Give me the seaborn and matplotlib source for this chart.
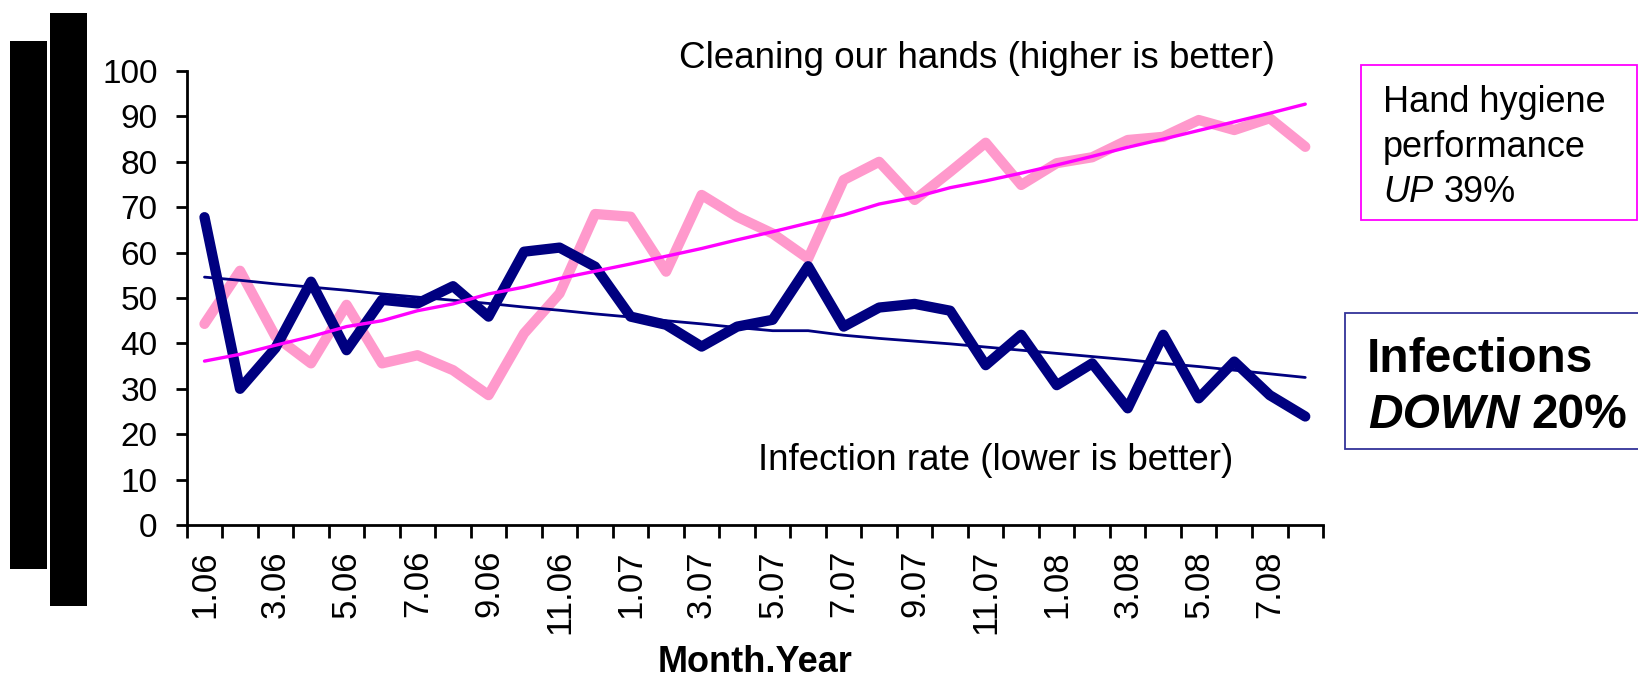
import pandas as pd
import numpy as np
import matplotlib.pyplot as plt
import matplotlib.patches as patches
import seaborn as sns

sns.set_style("white")
plt.rcParams['font.family'] = ['Liberation Sans', 'DejaVu Sans']
plt.rcParams['text.color'] = 'black'
plt.rcParams['axes.labelcolor'] = 'black'
plt.rcParams['xtick.color'] = 'black'
plt.rcParams['ytick.color'] = 'black'

# month.year categories, Jan 2006 .. Aug 2008
months = ['1.06', '2.06', '3.06', '4.06', '5.06', '6.06', '7.06', '8.06', '9.06', '10.06', '11.06', '12.06',
          '1.07', '2.07', '3.07', '4.07', '5.07', '6.07', '7.07', '8.07', '9.07', '10.07', '11.07', '12.07',
          '1.08', '2.08', '3.08', '4.08', '5.08', '6.08', '7.08', '8.08']

infection = [67.8, 30.0, 39.0, 53.6, 38.5, 49.6, 48.8, 52.6, 45.9, 60.2, 61.1, 56.9,
             45.9, 44.1, 39.3, 43.7, 45.2, 57.0, 43.7, 47.9, 48.7, 47.2, 35.2, 41.9,
             30.8, 35.6, 25.7, 41.9, 27.9, 36.0, 28.6, 23.9]
hygiene = [44.3, 56.0, 41.5, 35.6, 48.5, 35.6, 37.4, 34.1, 28.6, 42.2, 51.0, 68.5,
           67.9, 55.8, 72.7, 67.9, 64.2, 58.7, 76.0, 80.0, 71.6, 77.8, 84.2, 74.9,
           79.7, 81.0, 84.8, 85.5, 89.2, 87.0, 89.6, 83.3]
infection_trend = [54.6, 53.9, 53.1, 52.4, 51.7, 50.9, 50.2, 49.5, 48.8, 48.0, 47.3, 46.5,
                   45.8, 45.0, 44.3, 43.5, 42.8, 42.8, 41.8, 41.1, 40.5, 39.9, 39.2, 38.5,
                   37.8, 37.1, 36.4, 35.6, 34.9, 34.1, 33.3, 32.5]
hygiene_trend = [36.1, 37.6, 39.6, 41.5, 43.7, 45.0, 47.2, 48.7, 50.9, 52.4, 54.3, 55.9,
                 57.5, 59.2, 60.9, 62.8, 64.6, 66.5, 68.3, 70.7, 72.2, 74.3, 75.8, 77.5,
                 79.3, 81.2, 83.2, 85.0, 86.9, 88.8, 90.7, 92.7]

df = pd.DataFrame({'pos': np.arange(len(months)), 'month': months,
                   'infection': infection, 'hygiene': hygiene,
                   'infection_trend': infection_trend, 'hygiene_trend': hygiene_trend})

fig = plt.figure(figsize=(16.38, 6.82), dpi=100)
ax = fig.add_axes([0.1140, 0.2302, 0.6937, 0.6657])

sns.lineplot(data=df, x='pos', y='hygiene', ax=ax, color='#FF99CC', linewidth=7.4,
             solid_capstyle='round', solid_joinstyle='round')
sns.lineplot(data=df, x='pos', y='infection', ax=ax, color='#000080', linewidth=7.4,
             solid_capstyle='round', solid_joinstyle='round')
sns.lineplot(data=df, x='pos', y='infection_trend', ax=ax, color='#000080', linewidth=2.0)
sns.lineplot(data=df, x='pos', y='hygiene_trend', ax=ax, color='#FF00FF', linewidth=2.4)

ax.set_xlim(-0.5, len(months) - 0.5)
ax.set_ylim(0, 100)
ax.set_yticks(range(0, 101, 10))
ax.tick_params(axis='y', labelsize=24, length=8, width=2, direction='out', pad=13, left=True)

# tick marks between categories, labels on every other category
ax.set_xticks(np.arange(-0.5, len(months), 1.0))
ax.set_xticklabels([])
ax.set_xticks(df['pos'][::2], minor=True)
ax.set_xticklabels(months[::2], minor=True, rotation=90, fontsize=25)
ax.tick_params(axis='x', which='major', length=9, width=2, direction='out', bottom=True)
ax.tick_params(axis='x', which='minor', length=0, pad=18)

sns.despine(ax=ax)
for s in ['left', 'bottom']:
    ax.spines[s].set_linewidth(2)
    ax.spines[s].set_color('black')
ax.set_ylabel('')
ax.set_xlabel('Month.Year', fontsize=26, fontweight='bold', labelpad=8)
ax.grid(False)

W, H = 1638, 682

def fx(px):
    return px / W

def fy(py):
    return 1 - py / H

# black bars on the left
fig.patches.append(patches.Rectangle((fx(10), fy(569)), fx(37), 528 / H, transform=fig.transFigure,
                                     facecolor='black', edgecolor='none'))
fig.patches.append(patches.Rectangle((fx(50), fy(606)), fx(37), 593 / H, transform=fig.transFigure,
                                     facecolor='black', edgecolor='none'))

fig.text(fx(977), fy(58), 'Cleaning our hands (higher is better)', fontsize=26.5, ha='center', va='center')
fig.text(fx(996), fy(461), 'Infection rate (lower is better)', fontsize=26.5, ha='center', va='center')

# pink box
fig.patches.append(patches.Rectangle((fx(1361), fy(220)), fx(276), 155 / H, transform=fig.transFigure,
                                     facecolor='white', edgecolor='#FF00FF', linewidth=1.3))
fig.text(fx(1383), fy(112), 'Hand hygiene', fontsize=26, va='baseline')
fig.text(fx(1383), fy(157), 'performance', fontsize=26, va='baseline')
fig.text(fx(1383), fy(202), 'UP', fontsize=26, style='italic', va='baseline')
fig.text(fx(1444), fy(202), '39%', fontsize=26, va='baseline')

# navy box
fig.patches.append(patches.Rectangle((fx(1345), fy(449)), fx(300), 136 / H, transform=fig.transFigure,
                                     facecolor='white', edgecolor='#333399', linewidth=1.3))
fig.text(fx(1367), fy(372), 'Infections', fontsize=34.5, fontweight='bold', va='baseline')
fig.text(fx(1368), fy(428), 'DOWN', fontsize=34.5, fontweight='bold', style='italic', va='baseline')
fig.text(fx(1531), fy(428), '20%', fontsize=34.5, fontweight='bold', va='baseline')

fig.savefig('out.png', dpi=100)
